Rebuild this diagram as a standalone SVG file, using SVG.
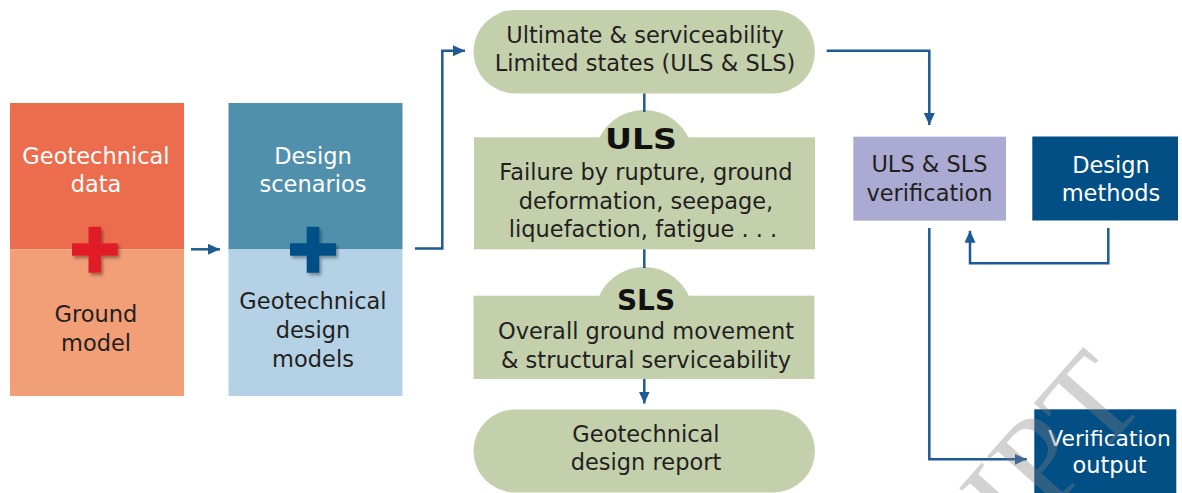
<svg xmlns="http://www.w3.org/2000/svg" width="1182" height="493" viewBox="0 0 1182 493">
<defs>
<style>
text{font-family:"DejaVu Sans","Liberation Sans",sans-serif;font-size:22.5px;text-anchor:middle}
.dk{fill:#231F20}
.wh{fill:#FFFFFF}
.bold{font-weight:bold;font-size:28px;fill:#111111}
.green{fill:#C4CFAC}
.conn{fill:none;stroke:#1F5B93;stroke-width:2.5}
.arr{marker-end:url(#ah)}
</style>
<marker id="ah" markerUnits="userSpaceOnUse" markerWidth="12" markerHeight="11" refX="12" refY="5.5" orient="auto">
<path d="M0,0 L12,5.5 L0,11 z" fill="#1F5B93"/>
</marker>
<filter id="sh" x="-30%" y="-30%" width="160%" height="160%">
<feDropShadow dx="2" dy="2.5" stdDeviation="1.5" flood-color="#000" flood-opacity="0.35"/>
</filter>
</defs>
<rect width="1182" height="493" fill="#FFFFFF"/>

<g id="geotech-data">
<rect x="10" y="103" width="174" height="146.5" fill="#EC6D4E"/>
<text class="wh" x="96" y="164">Geotechnical</text>
<text class="wh" x="96" y="192">data</text>
</g>
<g id="ground-model">
<rect x="10" y="249.5" width="174" height="146.5" fill="#F29E76"/>
<text class="dk" x="96" y="322">Ground</text>
<text class="dk" x="96" y="351">model</text>
</g>
<g id="red-plus" filter="url(#sh)">
<path d="M88.5,226.7 H101 V243.3 H117.7 V255.7 H101 V272.7 H88.5 V255.7 H72 V243.3 H88.5 Z" fill="#E11F26"/>
</g>

<g id="design-scenarios">
<rect x="228.5" y="103" width="174" height="146.5" fill="#5090AD"/>
<text class="wh" x="313" y="164">Design</text>
<text class="wh" x="313" y="192">scenarios</text>
</g>
<g id="geotech-design-models">
<rect x="228.5" y="249.5" width="174" height="146.5" fill="#B4D1E6"/>
<text class="dk" x="313" y="309">Geotechnical</text>
<text class="dk" x="313" y="338">design</text>
<text class="dk" x="313" y="367">models</text>
</g>
<g id="blue-plus" filter="url(#sh)">
<path d="M306.7,226.7 H319.3 V243.3 H336 V255.7 H319.3 V272.7 H306.7 V255.7 H290 V243.3 H306.7 Z" fill="#004F86"/>
</g>

<g id="limit-states">
<rect class="green" x="473.5" y="10" width="341.5" height="83.5" rx="41.75"/>
<text class="dk" x="645" y="43">Ultimate &amp; serviceability</text>
<text class="dk" x="645" y="71">Limited states (ULS &amp; SLS)</text>
</g>

<g id="uls">
<circle class="green" cx="644" cy="160" r="50"/>
<rect class="green" x="474" y="137.3" width="341" height="112"/>
<text class="bold" x="641" y="149" textLength="72" lengthAdjust="spacingAndGlyphs">ULS</text>
<text class="dk" x="646" y="180">Failure by rupture, ground</text>
<text class="dk" x="646" y="208.5">deformation, seepage,</text>
<text class="dk" x="643" y="237">liquefaction, fatigue . . .</text>
</g>

<g id="sls">
<circle class="green" cx="644" cy="316" r="49"/>
<rect class="green" x="473.5" y="295.7" width="341" height="83.3"/>
<text class="bold" x="646" y="310">SLS</text>
<text class="dk" x="646" y="339">Overall ground movement</text>
<text class="dk" x="646" y="367.5">&amp; structural serviceability</text>
</g>

<g id="design-report">
<rect class="green" x="473.5" y="409.5" width="341.5" height="83" rx="41.5"/>
<text class="dk" x="646" y="442">Geotechnical</text>
<text class="dk" x="646" y="470">design report</text>
</g>

<g id="verification">
<rect x="853.3" y="136.7" width="152.7" height="84" fill="#ABAAD3"/>
<text class="dk" x="929.5" y="172">ULS &amp; SLS</text>
<text class="dk" x="929.5" y="201">verification</text>
</g>

<g id="design-methods">
<rect x="1032.3" y="136.5" width="145.7" height="84" fill="#024F86"/>
<text class="wh" x="1111" y="172.7">Design</text>
<text class="wh" x="1111" y="200.7">methods</text>
</g>

<g id="verification-output">
<rect x="1034.3" y="409.3" width="142" height="84" fill="#024F86"/>
<text class="wh" x="1109.5" y="445.7" style="font-size:21.8px">Verification</text>
<text class="wh" x="1109.5" y="473.3">output</text>
</g>

<g id="connectors">
<path class="conn arr" d="M191,249.3 H220"/>
<path class="conn arr" d="M415,248.5 H442.3 V50.7 H465"/>
<path class="conn" d="M644.3,93.5 V112"/>
<path class="conn" d="M644.3,249.3 V268"/>
<path class="conn arr" d="M644.3,379 V403.5"/>
<path class="conn arr" d="M826.7,50.7 H929.3 V125"/>
<path class="conn arr" d="M1108.3,228 V263.3 H970 V230.7"/>
<path class="conn arr" d="M929.3,228 V459.3 H1026.7"/>
</g>

<g id="watermark">
<text x="0" y="0" transform="translate(1020,548) rotate(-48.7)" style="font-family:'Liberation Serif',serif;font-size:130px;text-anchor:start;fill:#808080;opacity:0.35">IPT</text>
</g>
</svg>
